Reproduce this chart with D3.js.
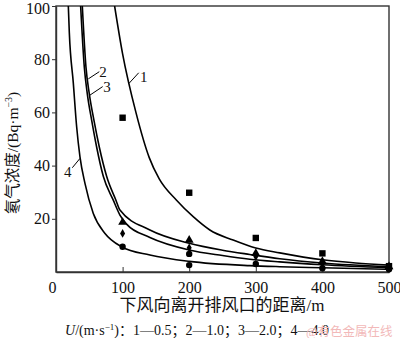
<!DOCTYPE html>
<html><head><meta charset="utf-8">
<script src="https://cdn.jsdelivr.net/npm/d3@7"></script>
<style>
html,body{margin:0;padding:0;background:#fff;}
svg{display:block;}
text{font-family:"Liberation Serif","Noto Sans CJK SC",serif;fill:#111;}
</style></head>
<body>
<svg id="c" width="400" height="338"></svg>
<script>
// fitted curves (distance m, concentration Bq/m3)
const curve1 = [[88,100],[100,82],[120,60],[140,43],[155,35],[181,27],[206,20.8],[231,15.8],[266,12],[300,9],[336,7.2],[400,4.6],[450,3.4],[500,2.6]];
const curve2 = [[39.5,100],[45,77],[50,67],[57,57],[65,47],[76,36],[90,27],[96,23.3],[141,15.8],[200,10.8],[250,8.2],[291,6.6],[336,5.0],[400,3.4],[500,2.0]];
const curve3 = [[37,100],[42.5,77],[47,67],[53.6,57],[61,47],[71,36],[86,27],[96,21.4],[106,18],[141,13],[200,8.3],[250,6.2],[291,4.8],[336,3.8],[400,2.7],[500,1.6]];
const curve4 = [[18.5,100],[20,90],[26,71],[31,54.6],[36,43.3],[43.5,33.3],[56,22],[73.6,14.5],[98.6,9.5],[141,6.4],[200,4.0],[291,2.4],[336,2.0],[400,1.6],[500,1.0]];
const curves = [curve1, curve2, curve3, curve4];

// measured points
const squares   = [[100,58],[200,29.8],[300,12.8],[400,7],[500,2.2]];
const triangles = [[100,18.7],[200,12],[300,7],[400,4.0],[500,2.0]];
const diamonds  = [[100,14.5],[200,9.1],[300,5.8],[400,3.2],[500,1.6]];
const circles   = [[100,9.5],[200,6.8],[200,2.6],[300,3.0],[400,1.4],[500,1.0]];

const xTicks = [0,100,200,300,400,500];
const yTicks = [20,40,60,80,100];

// curve labels: text, text x, text y, leader x1,y1,x2,y2 (data units)
const curveLabels = [
  ["1",126,71.4,124.2,74.9,109.6,70.9],
  ["2",65,73.3,65,75.3,48.5,72.6],
  ["3",71,67.7,70.1,69.7,51,66.5],
  ["4",12,35.7,24.5,39.2,36,42.7]
];

const svg = d3.select("#c");
const x = d3.scaleLinear().domain([0,500]).range([56,389]);
const y = d3.scaleLinear().domain([0,100]).range([272,6]);

svg.append("clipPath").attr("id","clip").append("rect")
  .attr("x",56).attr("y",6).attr("width",333).attr("height",266);

// frame
svg.append("rect").attr("x",56).attr("y",6).attr("width",333).attr("height",266)
  .attr("fill","none").attr("stroke","#333").attr("stroke-width",1.4);

// x axis (ticks inward)
const xAxis = svg.append("g").attr("transform","translate(0,272)")
  .call(d3.axisBottom(x).tickValues(xTicks).tickSizeInner(-5).tickSizeOuter(0).tickPadding(10));
xAxis.select(".domain").attr("stroke","#333").attr("stroke-width",1.4);
xAxis.selectAll(".tick line").attr("stroke","#333");
xAxis.selectAll("text").attr("font-size",16).attr("font-family","Liberation Serif").attr("fill","#111");
xAxis.selectAll(".tick").filter(d=>d===0).select("text").attr("x",-4);

// y axis (ticks outward)
const yAxis = svg.append("g").attr("transform","translate(56,0)")
  .call(d3.axisLeft(y).tickValues(yTicks).tickSizeInner(4).tickSizeOuter(0).tickPadding(2));
yAxis.select(".domain").attr("stroke","#333").attr("stroke-width",1.4);
yAxis.selectAll(".tick line").attr("stroke","#333");
yAxis.selectAll("text").attr("font-size",16).attr("font-family","Liberation Serif").attr("fill","#111");
yAxis.selectAll(".tick").filter(d=>d===100).select("text").attr("y",2);

// curves
const line = d3.line().x(d=>x(d[0])).y(d=>y(d[1])).curve(d3.curveMonotoneX);
svg.append("g").attr("clip-path","url(#clip)").selectAll("path").data(curves).join("path")
  .attr("d",line).attr("fill","none").attr("stroke","#000").attr("stroke-width",1.6);

// markers
const mk = svg.append("g").attr("fill","#000");
mk.selectAll("rect.sq").data(squares).join("rect").attr("class","sq")
  .attr("x",d=>x(d[0])-3.2).attr("y",d=>y(d[1])-3.2).attr("width",6.4).attr("height",6.4);
mk.selectAll("path.tri").data(triangles).join("path").attr("class","tri")
  .attr("d",d3.symbol(d3.symbolTriangle,34)).attr("transform",d=>`translate(${x(d[0])},${y(d[1])})`);
mk.selectAll("path.dia").data(diamonds).join("path").attr("class","dia")
  .attr("d",d3.symbol(d3.symbolDiamond,22)).attr("transform",d=>`translate(${x(d[0])},${y(d[1])})`);
mk.selectAll("circle").data(circles).join("circle")
  .attr("cx",d=>x(d[0])).attr("cy",d=>y(d[1])).attr("r",3.2);

// curve labels
const lg = svg.append("g");
lg.selectAll("line").data(curveLabels).join("line")
  .attr("x1",d=>x(d[3])).attr("y1",d=>y(d[4])).attr("x2",d=>x(d[5])).attr("y2",d=>y(d[6]))
  .attr("stroke","#000").attr("stroke-width",1);
lg.selectAll("text").data(curveLabels).join("text")
  .attr("x",d=>x(d[1])).attr("y",d=>y(d[2])).attr("font-size",15).text(d=>d[0]);

// y title
const yt = svg.append("text").attr("transform","translate(18,153) rotate(-90)")
  .attr("text-anchor","middle").attr("font-size",15.5);
yt.append("tspan").text("氡气浓度/(Bq·m");
yt.append("tspan").attr("dy",-6).attr("font-size",10).text("−3");
yt.append("tspan").attr("dy",6).text(")");

// x title
svg.append("text").attr("x",222).attr("y",311).attr("text-anchor","middle")
  .attr("font-size",17).text("下风向离开排风口的距离/m");

// legend
const lt = svg.append("text").attr("x",65).attr("y",335).attr("font-size",14);
lt.append("tspan").attr("font-style","italic").text("U");
lt.append("tspan").text("/(m·s");
lt.append("tspan").attr("dy",-5).attr("font-size",9).text("−1");
lt.append("tspan").attr("dy",5).text(")：1—0.5；2—1.0；3—2.0；4—4.0");

// watermark
svg.append("text").attr("x",306).attr("y",336).attr("font-size",12.5)
  .style("fill","#f2b9b9").attr("font-family","Noto Sans CJK SC").text("@有色金属在线");
</script>
</body></html>
